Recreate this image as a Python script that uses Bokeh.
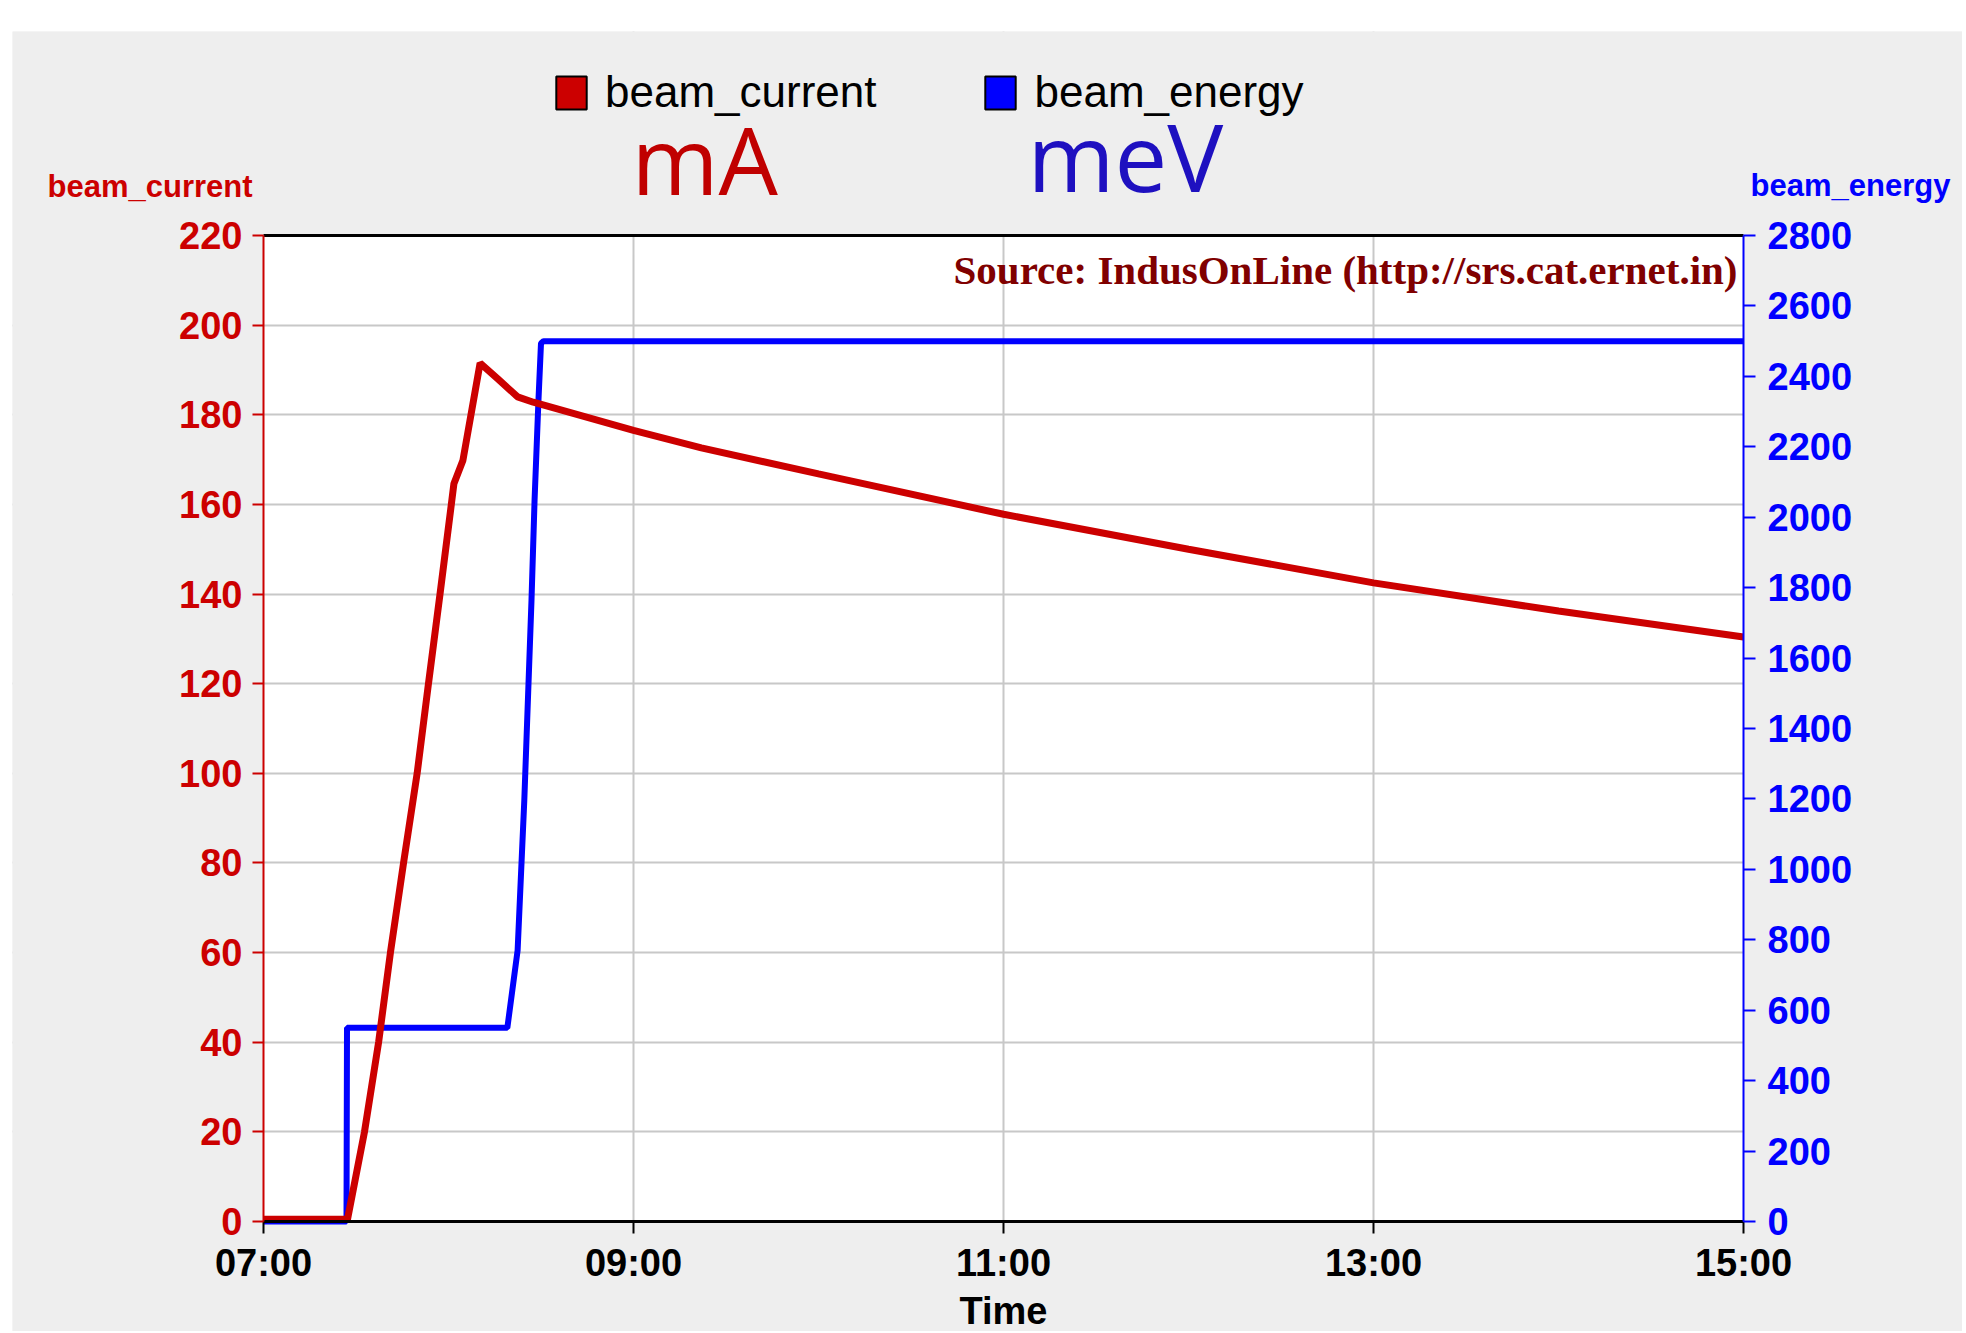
from bokeh.plotting import figure
from bokeh.models import (Range1d, LinearAxis, FixedTicker, Label, Legend, LegendItem,
                          ColumnDataSource, Spacer)
from bokeh.layouts import column, row
from bokeh.embed import file_html
from bokeh.resources import INLINE

# ---------------- data ----------------
current_times = ["07:00:00", "07:27:00", "07:27:15", "07:32:45", "07:37:20", "07:41:10",
                 "07:45:25", "07:49:50", "07:53:30", "07:57:15", "08:00:55", "08:01:45",
                 "08:04:40", "08:10:15", "08:16:00", "08:22:25", "08:27:30", "09:00:00",
                 "09:22:00", "10:00:00", "11:00:00", "12:00:00", "13:00:00", "14:00:00",
                 "15:00:00"]
beam_current = [0.5, 0.5, 0.5, 20, 40, 60,
                80, 100, 120, 140, 160, 164.6,
                169.8, 191.5, 188, 184, 182.8, 176.5,
                172.6, 166.8, 157.8, 150.0, 142.5, 136.2,
                130.4]

energy_times = ["07:00:00", "07:26:55", "07:27:05", "08:19:05", "08:22:25", "08:24:35",
                "08:26:55", "08:27:55", "08:29:10", "08:30:00", "08:30:50", "15:00:00"]
beam_energy = [0, 0, 550, 550, 770, 1196,
               1764, 2049, 2330, 2494, 2500, 2500]

x_ticks = [7, 9, 11, 13, 15]
x_tick_labels = ["07:00", "09:00", "11:00", "13:00", "15:00"]
current_ticks = list(range(0, 221, 20))
energy_ticks = list(range(0, 2801, 200))
series_names = ["beam_current", "beam_energy"]
unit_names = ["mA", "meV"]


def hours(s):
    hh, mm, ss = (int(v) for v in s.split(":"))
    return hh + mm / 60 + ss / 3600


# ---------------- layout (page pixels) ----------------
CANVAS_L, CANVAS_T, CANVAS_R, CANVAS_B = 12, 31, 1962, 1331
AREA_L, AREA_T, AREA_R, AREA_B = 263, 235, 1743, 1221
X0, X1 = x_ticks[0], x_ticks[-1]
Y0, Y1 = current_ticks[0], current_ticks[-1]
E1 = energy_ticks[-1]
xpp = (X1 - X0) / (AREA_R - AREA_L)
ypp = (Y1 - Y0) / (AREA_B - AREA_T)
x_start = X0 - (AREA_L - CANVAS_L) * xpp
x_end = X1 + (CANVAS_R - AREA_R) * xpp
y_start = Y0 - (CANVAS_B - AREA_B) * ypp
y_end = Y1 + (AREA_T - CANVAS_T) * ypp
ef = E1 / Y1


def X(px):
    return X0 + (px - AREA_L) * xpp


def Y(py):
    return Y0 + (AREA_B - py) * ypp


RED = "#CC0000"
BLUE = "#0000FF"
GRAY = "#EEEEEE"
SANS = "Liberation Sans"
NAN = float("nan")

p = figure(width=CANVAS_R - CANVAS_L, height=CANVAS_B - CANVAS_T,
           min_border=0, min_border_left=0, min_border_right=0,
           min_border_top=0, min_border_bottom=0,
           x_range=Range1d(x_start, x_end), y_range=Range1d(y_start, y_end),
           output_backend="svg", toolbar_location=None, tools="")
p.title.visible = False
p.border_fill_color = GRAY
p.background_fill_color = GRAY
p.outline_line_color = None
p.extra_y_ranges = {"energy": Range1d(y_start * ef, y_end * ef)}

# white plot area
p.quad(left=[X0], right=[X1], bottom=[Y0], top=[Y1], fill_color="white",
       line_color=None, level="image")

# grid (interior lines)
p.xgrid.ticker = FixedTicker(ticks=x_ticks[1:-1])
p.ygrid.ticker = FixedTicker(ticks=current_ticks[1:-1])
for g in (p.xgrid, p.ygrid):
    g.grid_line_color = "#C8C8C8"
    g.grid_line_width = 2

# gray surround (keeps grid lines inside the plot area)
p.quad(left=[x_start, X1, X0, X0], right=[X0, x_end, X1, X1],
       bottom=[y_start, y_start, y_start, Y1], top=[y_end, y_end, Y0, y_end],
       fill_color=GRAY, line_color=None)

# bottom axis
xa = p.xaxis[0]
xa.fixed_location = Y0
xa.bounds = (X0, X1)
xa.ticker = FixedTicker(ticks=x_ticks)
xa.major_label_overrides = {t: l for t, l in zip(x_ticks, x_tick_labels)}
xa.axis_line_color = "black"
xa.axis_line_width = 3
xa.major_tick_line_color = "black"
xa.major_tick_line_width = 2
xa.major_tick_out = 12
xa.major_tick_in = 0
xa.minor_tick_line_color = None
xa.major_label_text_font = SANS
xa.major_label_text_font_style = "bold"
xa.major_label_text_font_size = "38px"
xa.major_label_text_color = "black"
xa.major_label_standoff = 8

# top border line
ta = LinearAxis(fixed_location=Y1, bounds=(X0, X1), ticker=FixedTicker(ticks=[]),
                axis_line_color="black", axis_line_width=3,
                major_tick_line_color=None, minor_tick_line_color=None)
p.add_layout(ta, "above")

# left axis
ya = p.yaxis[0]
ya.fixed_location = X0
ya.bounds = (Y0, Y1)
ya.ticker = FixedTicker(ticks=current_ticks)
ya.axis_line_color = RED
ya.axis_line_width = 2
ya.major_tick_line_color = RED
ya.major_tick_line_width = 2
ya.major_tick_out = 11
ya.major_tick_in = 0
ya.minor_tick_line_color = None
ya.major_label_text_font = SANS
ya.major_label_text_font_style = "bold"
ya.major_label_text_font_size = "38px"
ya.major_label_text_color = RED
ya.major_label_standoff = 10

# right axis
ra = LinearAxis(y_range_name="energy", fixed_location=X1, bounds=(0, E1),
                ticker=FixedTicker(ticks=energy_ticks))
ra.axis_line_color = BLUE
ra.axis_line_width = 2
ra.major_tick_line_color = BLUE
ra.major_tick_line_width = 2
ra.major_tick_out = 12
ra.major_tick_in = 0
ra.minor_tick_line_color = None
ra.major_label_text_font = SANS
ra.major_label_text_font_style = "bold"
ra.major_label_text_font_size = "38px"
ra.major_label_text_color = BLUE
ra.major_label_standoff = 12
p.add_layout(ra, "right")

# lines
esrc = ColumnDataSource(dict(x=[hours(t) for t in energy_times], y=beam_energy))
csrc = ColumnDataSource(dict(x=[hours(t) for t in current_times], y=beam_current))
p.line("x", "y", source=esrc, y_range_name="energy", line_color=BLUE, line_width=6)
p.line("x", "y", source=csrc, line_color=RED, line_width=7)

# legend (square swatches)
sw1 = p.quad(left=[NAN], right=[NAN], top=[NAN], bottom=[NAN],
             fill_color=RED, line_color="black", line_width=2)
sw2 = p.quad(left=[NAN], right=[NAN], top=[NAN], bottom=[NAN],
             fill_color=BLUE, line_color="black", line_width=2)
legend = Legend(items=[LegendItem(label=series_names[0], renderers=[sw1]),
                       LegendItem(label=series_names[1], renderers=[sw2])],
                orientation="horizontal",
                location=(552 - CANVAS_L, CANVAS_B - 117),
                glyph_width=38, glyph_height=41, label_standoff=15, spacing=105,
                padding=0, margin=0, border_line_color=None, background_fill_alpha=0,
                label_text_font=SANS, label_text_font_size="44px", label_text_color="black")
p.add_layout(legend, "center")


def lab(text, px, py, size, color, font=SANS, style="normal", align="left", k=0.37):
    # py is the wanted baseline in page pixels; k compensates the renderer's baseline offset
    fs = float(size.replace("px", ""))
    p.add_layout(Label(x=X(px), y=Y(py - k * fs), text=text, text_font=font,
                       text_font_size=size, text_font_style=style, text_color=color,
                       text_align=align, text_baseline="alphabetic"))


lab(unit_names[0], 631, 195, "94px", "#C00000", font="Open Sans", k=0.39)
lab(unit_names[1], 1027, 192, "94px", "#1E10C0", font="Open Sans", k=0.39)
lab(series_names[0], 47, 197, "31px", RED, style="bold")
lab(series_names[1], 1750, 196, "31px", BLUE, style="bold")
lab("Source: IndusOnLine (http://srs.cat.ernet.in)", 1737, 283, "41px", "#800000",
    font="Liberation Serif", style="bold", align="right", k=0.33)
lab("Time", 1003, 1325, "38px", "black", style="bold", align="center")

layout = column(Spacer(height=CANVAS_T), row(Spacer(width=CANVAS_L), p))
open("out.html", "w").write(file_html(layout, INLINE))
